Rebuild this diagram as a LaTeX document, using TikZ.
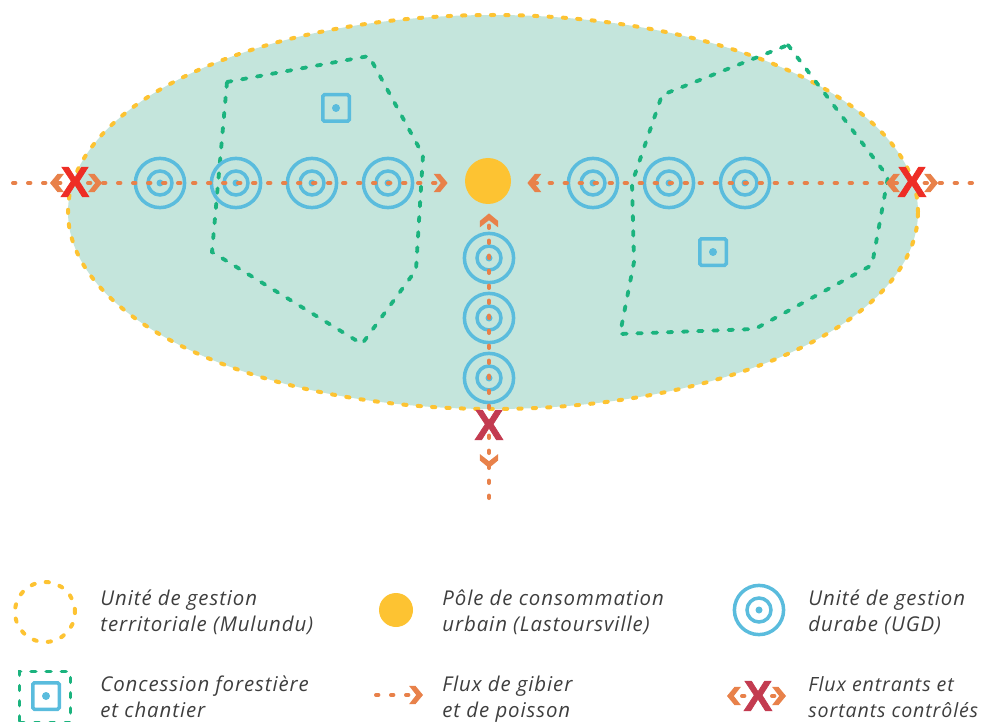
\documentclass[tikz,border=0pt]{standalone}
\usepackage{fontspec}
\newfontfamily\legfont{Open Sans}[LetterSpace=4.5]
\newfontfamily\xfont{Liberation Sans}[BoldFeatures={FakeBold=1.6}]
\usetikzlibrary{calc}
\definecolor{zone}{HTML}{C4E5DC}
\definecolor{yel}{HTML}{FDC332}
\definecolor{grn}{HTML}{1BB37E}
\definecolor{ugdblue}{HTML}{5ABCDD}
\definecolor{flowc}{HTML}{E8814A}
\definecolor{xred}{HTML}{EE2D25}
\definecolor{xcrim}{HTML}{C33B50}
\definecolor{txt}{HTML}{3E3E3E}
\pgfdeclarearrow{
  name = Chev,
  setup code = {
    \pgfarrowssettipend{0pt}
    \pgfarrowssetlineend{-3.5pt}
    \pgfarrowssetbackend{-7pt}
  },
  drawing code = {
    \pgfpathmoveto{\pgfqpoint{0pt}{0pt}}
    \pgfpathlineto{\pgfqpoint{-3.8pt}{4.6pt}}
    \pgfpathlineto{\pgfqpoint{-7pt}{4.6pt}}
    \pgfpathlineto{\pgfqpoint{-3.4pt}{0pt}}
    \pgfpathlineto{\pgfqpoint{-7pt}{-4.6pt}}
    \pgfpathlineto{\pgfqpoint{-3.8pt}{-4.6pt}}
    \pgfpathclose
    \pgfusepathqfill
  }
}
\tikzset{
  zonedot/.style={draw=yel, line width=2pt, line cap=round, dash pattern=on 1.6pt off 5.6pt},
  concession/.style={draw=grn, line width=1.9pt, line cap=round, dash pattern=on 2.3pt off 5.3pt},
  flow/.style={color=flowc, line width=2pt, line cap=round, dash pattern=on 1.2pt off 6.3pt},
  stub/.style={color=flowc, line width=2pt, line cap=butt, dash pattern=on 0pt off 300pt, -Chev},
  ugd/.style={circle, draw=ugdblue, line width=1.75pt, minimum size=24.6pt, inner sep=0pt,
    path picture={
      \draw[ugdblue, line width=1.75pt] (path picture bounding box.center) circle[radius=6pt];
      \fill[ugdblue] (path picture bounding box.center) circle[radius=1.75pt];}},
  chantier/.style={rectangle, draw=ugdblue, line width=1.75pt, minimum size=13.25pt, inner sep=0pt,
    rounded corners=0.8pt,
    path picture={\fill[ugdblue] (path picture bounding box.center) circle[radius=2pt];}},
  pole/.style={circle, fill=yel, minimum size=23pt, inner sep=0pt},
  ctrl/.style={font=\xfont\bfseries\fontsize{21.5pt}{21.5pt}\selectfont, inner sep=0pt},
  legtext/.style={font=\legfont\itshape\fontsize{10.2pt}{13pt}\selectfont, text=txt,
    align=left, anchor=base west, inner sep=0pt},
}
\begin{document}
\begin{tikzpicture}[x=0.5pt, y=-0.5pt]
\useasboundingbox (0,0) rectangle (986,722);
% territorial unit
\fill[zone] (493,212) ellipse [x radius=212.5pt, y radius=98.5pt];
\draw[zonedot] (493,212) ellipse [x radius=212.5pt, y radius=98.5pt];
% concessions
\draw[concession] (227,82) -- (369,56) -- (423,155) -- (416,270) -- (362,344) -- (212,252) -- cycle;
\draw[concession] (788,45) -- (888,177) -- (872,265) -- (755,329) -- (620,334) -- (634,262) -- (632,183) -- (662,95) -- cycle;
\node[chantier] (c1) at (336,108) {};
\node[chantier] (c2) at (713,252) {};
% UGDs
\node[ugd] (w1) at (160,183) {};
\node[ugd] (w2) at (236,183) {};
\node[ugd] (w3) at (312,183) {};
\node[ugd] (w4) at (388,183) {};
\node[ugd] (e1) at (593,183) {};
\node[ugd] (e2) at (669,183) {};
\node[ugd] (e3) at (745,183) {};
\node[ugd] (s1) at (489,258) {};
\node[ugd] (s2) at (489,318) {};
\node[ugd] (s3) at (489,378) {};
% urban pole
\node[pole] (pole) at (488,181) {};
% flows
\coordinate (fL) at (13,183);
\coordinate (fR) at (972,183);
\coordinate (fB) at (489,498);
\draw[flow,-Chev,shorten >=8.5pt] (fL) -- (fL -| pole.west);
\draw[flow,-Chev,shorten >=8pt] (fR) -- (fR -| pole.east);
\draw[flow,-Chev,shorten >=4.5pt] (fB) -- (fB |- pole.south);
% controls
\coordinate (xLc) at (75,183);
\coordinate (xLa) at (50,183);
\coordinate (xLb) at (102,183);
\draw[stub] (xLc) -- (xLa);
\draw[stub] (xLc) -- (xLb);
\node[ctrl, text=xred] (xL) at (75,182) {X};
\coordinate (xRc) at (912,183);
\coordinate (xRa) at (886,183);
\coordinate (xRb) at (938,183);
\draw[stub] (xRc) -- (xRa);
\draw[stub] (xRc) -- (xRb);
\node[ctrl, text=xred] (xR) at (912,182) {X};
\coordinate (xBc) at (489,425);
\coordinate (xBa) at (489,468);
\draw[stub] (xBc) -- (xBa);
\node[ctrl, text=xcrim] (xB) at (489,425) {X};
% legend
\node[circle, zonedot, minimum size=30pt, inner sep=0pt] (lg1) at (45,612) {};
\node[legtext] (lt1) at (100,631) {Unité de gestion\\territoriale (Mulundu)};
\node[pole, minimum size=17pt] (lg2) at (396,610) {};
\node[legtext] (lt2) at (442,631) {Pôle de consommation\\urbain (Lastoursville)};
\node[ugd] (lg3) at (759,610) {};
\node[legtext] (lt3) at (808,631) {Unité de gestion\\durabe (UGD)};
\node[rectangle, concession, minimum size=25.5pt, inner sep=0pt] (lg4) at (45,697) {};
\node[chantier] (lg4b) at (46,696) {};
\node[legtext] (lt4) at (100,717) {Concession forestière\\et chantier};
\coordinate (lf1) at (376,695);
\coordinate (lf2) at (423,695);
\draw[flow,-Chev] (lf1) -- (lf2);
\node[legtext] (lt5) at (442,717) {Flux de gibier\\et de poisson};
\coordinate (lxc) at (758,696);
\coordinate (lxa) at (727,696);
\coordinate (lxb) at (786,696);
\draw[flow] (742,696) -- (775,696);
\draw[stub] (lxc) -- (lxa);
\draw[stub] (lxc) -- (lxb);
\node[ctrl, text=xcrim] (lx) at (758,696) {X};
\node[legtext, font=\legfont\itshape\fontsize{9.8pt}{13pt}\selectfont] (lt6) at (808,717) {Flux entrants et\\sortants contrôlés};
\end{tikzpicture}
\end{document}
